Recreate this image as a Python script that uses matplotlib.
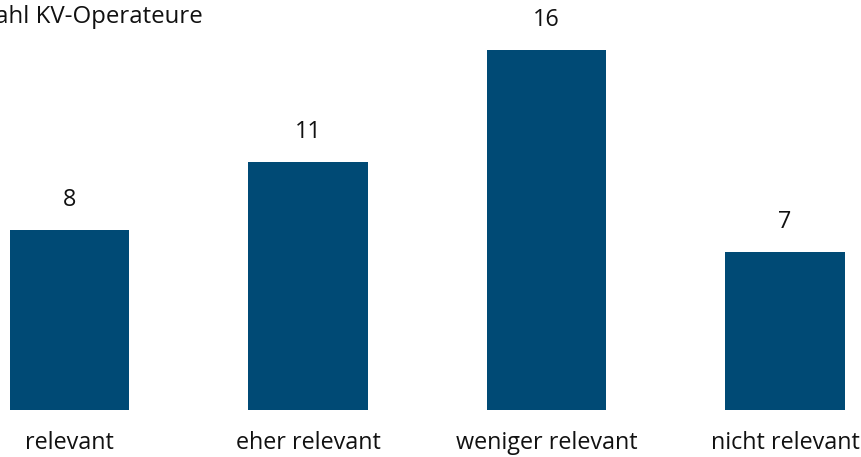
import matplotlib
matplotlib.use("Agg")
import matplotlib.pyplot as plt

categories = ["relevant", "eher relevant", "weniger relevant", "nicht relevant"]
values = [8, 11, 16, 7]
y_label = "Anzahl KV-Operateure"

W, H = 861, 457
fig = plt.figure(figsize=(W / 100, H / 100), dpi=100)
plt.rcParams["font.family"] = ["Open Sans", "DejaVu Sans"]

ax = fig.add_axes([0, 47 / H, 1, 410 / H])
x = list(range(len(categories)))
ax.bar(x, values, width=0.5, color="#004a75")
ax.set_xlim(-69.5 / 238.5, (W - 69.5) / 238.5)
ax.set_ylim(0, 410 / 22.53)
for xi, v in zip(x, values):
    ax.annotate(str(v), (xi, v), xytext=(0, 21.5), textcoords="offset points",
                ha="center", va="center", fontsize=16.8, color="#111111")
for xi, c in zip(x, categories):
    ax.annotate(c, (xi, 0), xytext=(0, -24), textcoords="offset points",
                ha="center", va="center", fontsize=16.8, color="#111111")
ax.axis("off")

# axis title, partly running off the left edge
fig.text(203 / W, 1 - 17 / H, y_label, ha="right", va="center",
         fontsize=17.3, color="#111111")

fig.savefig("out.png", dpi=100)
